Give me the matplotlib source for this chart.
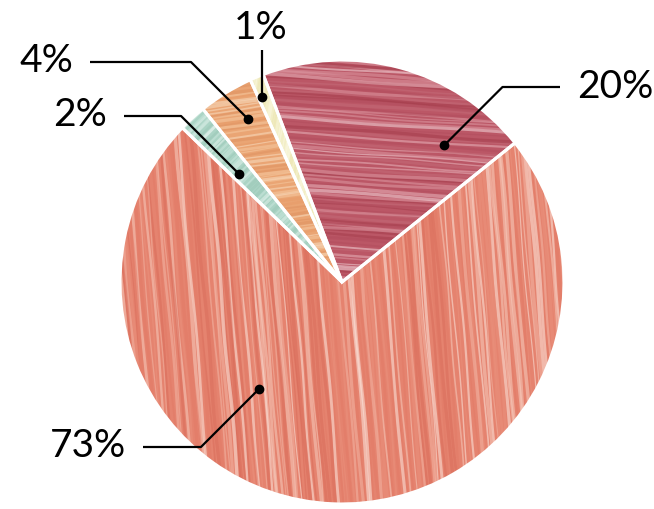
import numpy as np
import matplotlib.pyplot as plt
from matplotlib.collections import LineCollection
from matplotlib.patches import Wedge

plt.rcParams['font.family'] = ['Lato', 'DejaVu Sans']

# Slice shares, counter-clockwise from the right-hand edge of the top slice
shares = [20, 1, 4, 2, 73]
base_colors = ['#bb5766', '#f2eec6', '#eaa574', '#abd4c5', '#e5836f']
streak_colors = [
    ['#dc98a2', '#f3d6da', '#a43c4b', '#c46b78', '#b24d5d', '#e8b4bb'],
    ['#fbf8e3', '#f7f3d4', '#ebe4b0'],
    ['#f5c9a0', '#f8dcc0', '#df9160', '#e89b68'],
    ['#c9e6dc', '#e2f2ec', '#9cc8b8'],
    ['#f2b5a4', '#fbe6de', '#d96c5a', '#ea917c', '#e27a66', '#f6cbbd'],
]
streak_angles = [-4, 80, 8, 45, 95]

center = np.array([342.0, 227.0])
radius = 222.0

# dot anchor inside each slice: (fraction across the slice, fraction of radius)
dot_anchor = [(0.20, 0.77), (0.72, 0.91), (0.39, 0.85), (0.67, 0.67), (0.366, 0.61)]
# label line: side, y of the horizontal run, x where the run starts
label_side = ['right', 'top', 'left', 'left', 'left']
label_line_y = [422, 459, 447, 393, 62]
label_line_x = [560, 262, 90, 124, 143]

fig = plt.figure(figsize=(6.54, 5.09), dpi=100)
ax = fig.add_axes([0, 0, 1, 1])

wedges, _ = ax.pie(shares, colors=base_colors, startangle=38.8, counterclock=True,
                   radius=radius, center=tuple(center),
                   wedgeprops=dict(edgecolor='none', linewidth=0))

# brush-stroke texture, clipped to each slice
rng = np.random.default_rng(3)
for w, cols, ang in zip(wedges, streak_colors, streak_angles):
    t = np.deg2rad(ang)
    d = np.array([np.cos(t), np.sin(t)])
    n = np.array([-d[1], d[0]])
    s = np.linspace(-radius * 1.1, radius * 1.1, 60)
    segs, seg_cols, seg_lw = [], [], []
    off = -radius * 1.1
    while off < radius * 1.1:
        wav = 0.8 * np.sin(s / (25 + 20 * rng.random()) + rng.random() * 6)
        pts = center + np.outer(s, d) + np.outer(off + wav, n)
        segs.append(pts)
        seg_cols.append(cols[rng.integers(len(cols))])
        seg_lw.append(0.8 + 1.8 * rng.random())
        off += 2.0 + 2.5 * rng.random()
    lc = LineCollection(segs, colors=seg_cols, linewidths=seg_lw, alpha=0.55)
    ax.add_collection(lc)
    lc.set_clip_path(w)

# white seams between slices
for w in wedges:
    ax.add_patch(Wedge(tuple(center), radius, w.theta1, w.theta2, fill=False,
                       edgecolor='white', linewidth=2.2, zorder=3))

# leader lines and labels
for w, v, (fr, rf), side, ly, lx in zip(wedges, shares, dot_anchor,
                                        label_side, label_line_y, label_line_x):
    a = np.deg2rad(w.theta1 + fr * (w.theta2 - w.theta1))
    dot = center + radius * rf * np.array([np.cos(a), np.sin(a)])
    dy = abs(ly - dot[1])
    if side == 'top':
        xs, ys = [dot[0], dot[0]], [dot[1], ly]
        ax.text(dot[0] - 1, ly + 11, f'{v}%', fontsize=28, ha='center', va='baseline')
    elif side == 'left':
        ex = dot[0] - dy
        xs, ys = [lx, ex, dot[0]], [ly, ly, dot[1]]
        ax.text(lx - 17, ly - 10, f'{v}%', fontsize=28, ha='right', va='baseline')
    else:
        ex = dot[0] + dy
        xs, ys = [lx, ex, dot[0]], [ly, ly, dot[1]]
        ax.text(lx + 17, ly - 11, f'{v}%', fontsize=28, ha='left', va='baseline')
    ax.plot(xs, ys, color='black', linewidth=1.6, zorder=4, solid_capstyle='butt')
    ax.plot(dot[0], dot[1], 'o', color='black', markersize=6, zorder=5)

ax.set_xlim(0, 654)
ax.set_ylim(0, 509)
ax.set_aspect('equal')
ax.axis('off')

fig.savefig('out.png', dpi=100, facecolor='white')
